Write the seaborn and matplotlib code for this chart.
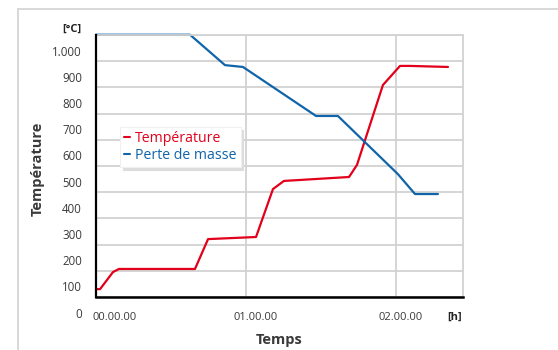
import matplotlib
matplotlib.use("Agg")
import matplotlib.pyplot as plt
import matplotlib.transforms as mtransforms
from matplotlib.lines import Line2D
import seaborn as sns
import pandas as pd

# ---- data (hours, °C) ----
temp_hours = [0, 0.027, 0.113, 0.153, 0.66, 0.747, 1.067, 1.18, 1.253, 1.687, 1.74, 1.913, 2.027, 2.093, 2.347]
temp_values = [95, 95, 160, 172, 172, 286, 294, 477, 508, 523, 569, 874, 947, 947, 943]
mass_hours = [0, 0.627, 0.86, 0.98, 1.467, 1.613, 2.013, 2.127, 2.28]
mass_values = [1066, 1066, 950, 943, 756, 756, 534, 458, 458]

series_names = ["Température", "Perte de masse"]
y_tick_values = [0, 100, 200, 300, 400, 500, 600, 700, 800, 900, 1000]
y_tick_labels = ["0", "100", "200", "300", "400", "500", "600", "700", "800", "900", "1.000"]
x_tick_values = [0.127, 1.063, 2.03]
x_tick_labels = ["00.00.00", "01.00.00", "02.00.00"]

RED = "#e2001a"
BLUE = "#1064aa"
GRID = "#d2d2d2"
TXT = "#3a3a3a"

df = pd.concat([
    pd.DataFrame({"h": temp_hours, "v": temp_values, "s": series_names[0]}),
    pd.DataFrame({"h": mass_hours, "v": mass_values, "s": series_names[1]}),
])

sns.set_theme(style="white")
plt.rcParams["font.family"] = ["Open Sans", "DejaVu Sans"]

W, H = 558, 350
fig = plt.figure(figsize=(W / 100, H / 100), dpi=100)
ax = fig.add_axes([96 / W, 1 - 297 / H, (463 - 96) / W, (297 - 35) / H])

# grid
for g in range(65, 1066, 100):
    ax.axhline(g, color=GRID, lw=1.3, zorder=0)
for g in [1, 2]:
    ax.axvline(g, color=GRID, lw=1.3, zorder=0)

sns.lineplot(data=df, x="h", y="v", hue="s", palette={series_names[0]: RED, series_names[1]: BLUE},
             sort=False, estimator=None, legend=False, lw=1.6, ax=ax)
for ln in ax.lines[-2:]:
    ln.set_clip_on(False)

ax.set_xlim(0, 2.447)
ax.set_ylim(65, 1065)
ax.set_xticks([])
ax.set_yticks([])
ax.set_xlabel("")
ax.set_ylabel("")
for side in ["top", "right"]:
    ax.spines[side].set_color(GRID)
    ax.spines[side].set_linewidth(1.3)
ax.spines["left"].set_color("black")
ax.spines["left"].set_linewidth(1.6)
ax.spines["bottom"].set_color("black")
ax.spines["bottom"].set_linewidth(1.8)
ax.spines["left"].set_zorder(5)
ax.spines["bottom"].set_zorder(5)

# y tick labels (offset from gridlines, as in the reference)
ytr = mtransforms.blended_transform_factory(fig.transFigure, ax.transData)
for v, lab in zip(y_tick_values, y_tick_labels):
    ax.text(82 / W, v, lab, transform=ytr, ha="right", va="center", fontsize=8.3, color=TXT)
ax.text(81 / W, 1088, "[°C]", transform=ytr, ha="right", va="center", fontsize=8,
        fontweight="bold", color="#222222")

# x tick labels
xtr = mtransforms.blended_transform_factory(ax.transData, fig.transFigure)
for v, lab in zip(x_tick_values, x_tick_labels):
    ax.text(v, 1 - 317 / H, lab, transform=xtr, ha="center", va="center", fontsize=8, color=TXT)
fig.text(455 / W, 1 - 317 / H, "[h]", ha="center", va="center", fontsize=8, fontweight="bold", color="#222222")

fig.text(279 / W, 1 - 340 / H, "Temps", ha="center", va="center", fontsize=10.5, fontweight="bold", color=TXT)
fig.text(38 / W, 1 - 169 / H, "Température", ha="center", va="center", rotation=90, fontsize=10.5,
         fontweight="bold", color=TXT)

# legend
handles = [Line2D([], [], color=RED, lw=1.5), Line2D([], [], color=BLUE, lw=1.5)]
leg = ax.legend(handles, series_names, loc="upper left", bbox_to_anchor=(120 / W, 1 - 127 / H),
                bbox_transform=fig.transFigure, fontsize=10.2, handlelength=0.4, handletextpad=0.35,
                frameon=True, fancybox=False, shadow={"color": "#dcdcdc", "alpha": 1.0},
                borderpad=0.3, labelspacing=0.1, borderaxespad=0)
leg.get_frame().set_edgecolor("#f0f0f0")
leg.get_frame().set_linewidth(0.8)
for t, c in zip(leg.get_texts(), [RED, BLUE]):
    t.set_color(c)

# outer light frame
fig.add_artist(Line2D([18 / W, 1], [1 - 9 / H, 1 - 9 / H], color="#d6d6d6", lw=1.3, transform=fig.transFigure))
fig.add_artist(Line2D([18 / W, 18 / W], [1 - 9 / H, 0], color="#d6d6d6", lw=1.3, transform=fig.transFigure))

fig.savefig("out.png", dpi=100)
